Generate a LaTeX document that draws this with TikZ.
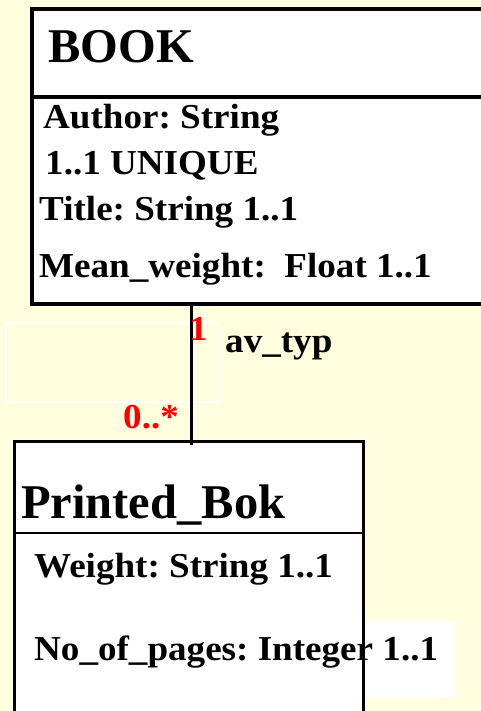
\documentclass[tikz,border=0pt]{standalone}
\usepackage{fontspec}
\setmainfont{Liberation Serif}
\newfontfamily\attrfont[FakeStretch=1.06]{Liberation Serif}
\frenchspacing

\definecolor{paper}{RGB}{255,255,224}
\definecolor{multred}{RGB}{255,0,0}

\tikzset{
  classbox/.style={draw=black, fill=white, line width=3.5pt, inner sep=0pt,
                   outer sep=0pt, anchor=north west},
  divider/.style={line width=#1},
  classname/.style={anchor=base west, inner sep=0pt,
                    font=\fontsize{48.5}{48.5}\selectfont\bfseries},
  attr/.style={anchor=base west, inner sep=0pt,
               font=\attrfont\fontsize{35}{35}\selectfont\bfseries},
  multiplicity/.style={attr, text=multred},
  link/.style={line width=3.6pt},
  ghostframe/.style={draw=white, line width=2pt},
}

\begin{document}
\begin{tikzpicture}[x=1pt,y=-1pt]
  % page background
  \fill[paper] (0,0) rectangle (481,711);
  \useasboundingbox (0,0) rectangle (481,711);

  % empty frame left of the association
  \draw[ghostframe] (6,323) rectangle (218,402);

  % class BOOK
  \node[classbox, minimum width=458pt, minimum height=295pt] (book) at (32,9) {};
  \coordinate (bookdiv) at (0,97);
  \draw[divider=3.5pt] (book.west |- bookdiv) -- (book.east |- bookdiv);

  % class Printed_Bok
  \fill[white] (365,621) rectangle (456,698);
  \node[classbox, line width=3pt, minimum width=349pt, minimum height=300pt] (printed) at (14.5,441) {};
  \coordinate (printeddiv) at (0,533);
  \draw[divider=2pt] (printed.west |- printeddiv) -- (printed.east |- printeddiv);

  % association av_typ
  \coordinate (linkx) at (191.5,0);
  \draw[link] (book.south -| linkx) -- ([yshift=-4pt]printed.north -| linkx);

  % BOOK texts
  \node[classname] (booktitle) at (48,63) {BOOK};
  \node[attr] (author) at (43,129) {Author: String};
  \node[attr] (authormult) at (45,175) {1..1 UNIQUE};
  \node[attr] (title) at (39,221) {Title: String 1..1};
  \node[attr] (meanweight) at (39,277) {Mean\_weight:\ \ Float 1..1};

  % association labels
  \node[multiplicity] (multone) at (189,340) {1};
  \node[attr] (assocname) at (225,352) {av\_typ};
  \node[multiplicity] (multmany) at (123,428) {0..*};

  % Printed_Bok texts
  \node[classname] (printedtitle) at (21,518) {Printed\_Bok};
  \node[attr] (weight) at (34,577) {Weight: String 1..1};
  \node[attr] (pages) at (34,660) {No\_of\_pages: Integer 1..1};

  % right border of Printed_Bok over the overflowing text
  \draw[line width=3pt] (printed.north east) -- (printed.south east);
\end{tikzpicture}
\end{document}
